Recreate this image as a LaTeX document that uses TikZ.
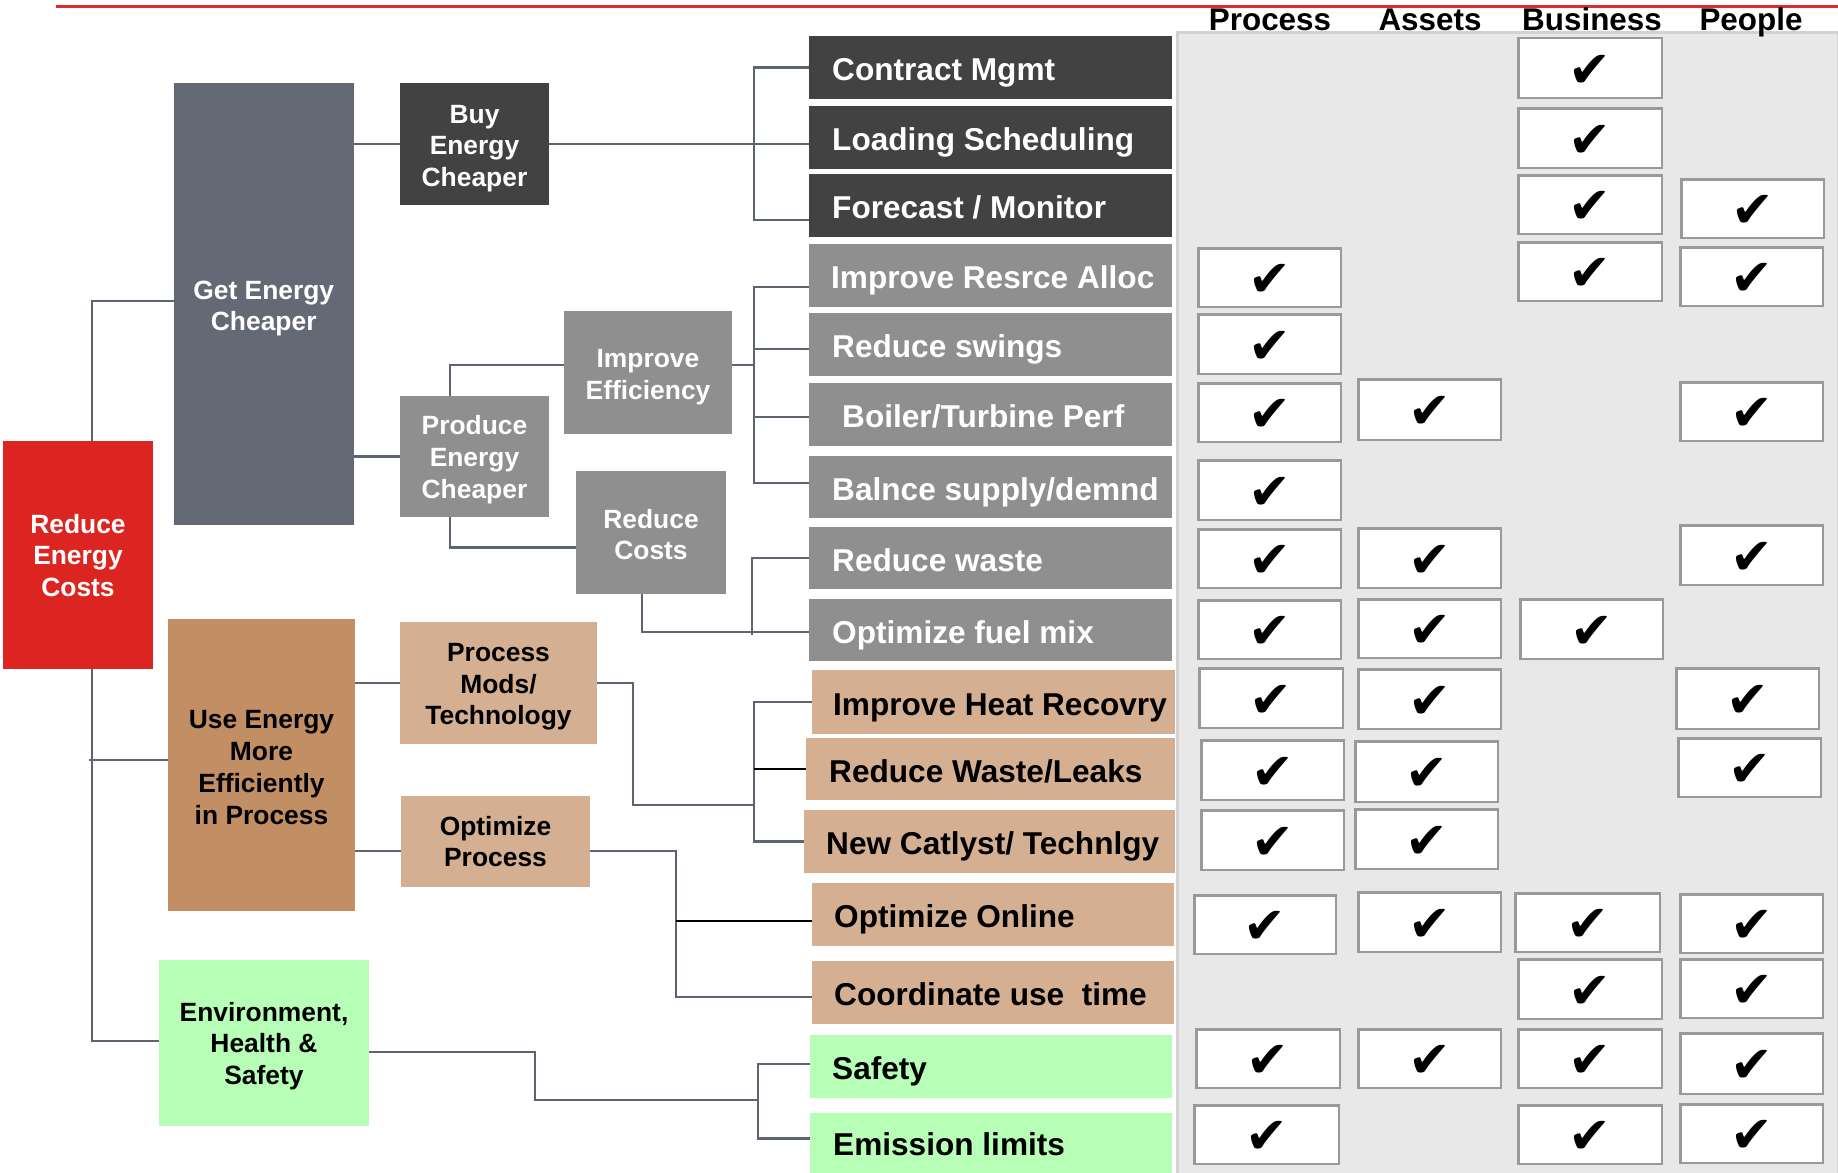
\documentclass[tikz,border=0pt]{standalone}
\usepackage{fontspec}
\setmainfont{Liberation Sans}
\newfontfamily\ckf{DejaVu Sans}
\definecolor{redbox}{HTML}{DC2521}
\definecolor{slate}{HTML}{646A75}
\definecolor{darkbox}{HTML}{424242}
\definecolor{midgray}{HTML}{8F8F8F}
\definecolor{brown}{HTML}{C28E63}
\definecolor{tan}{HTML}{D4AF91}
\definecolor{lgreen}{HTML}{B7FFB7}
\definecolor{panelfill}{HTML}{E8E8E8}
\definecolor{panelline}{HTML}{D2D2D2}
\definecolor{ckline}{HTML}{999999}
\definecolor{linec}{HTML}{5D6571}
\definecolor{redline}{HTML}{E02B2B}
\newcommand\bx[9]{% name, x1,y1,x2,y2, box style, text style, text shift, text
  \pgfmathsetmacro\bxw{#4-#2}\pgfmathsetmacro\bxh{#5-#3}%
  \pgfmathsetmacro\bxx{(#2+#4)/2}\pgfmathsetmacro\bxy{(#3+#5)/2}%
  \node[plainbox, #6, minimum width=\bxw pt, minimum height=\bxh pt] (#1) at (\bxx,\bxy) {};
  \node[#7] (#1t) at ([yshift=-#8pt]#1.center) {#9};}
\newcommand\rowitem[7]{% name, x1,y1,x2,y2, fill, text node
  \pgfmathsetmacro\bxw{#4-#2}\pgfmathsetmacro\bxh{#5-#3}%
  \pgfmathsetmacro\bxx{(#2+#4)/2}\pgfmathsetmacro\bxy{(#3+#5)/2}%
  \node[plainbox, fill=#6, minimum width=\bxw pt, minimum height=\bxh pt] (#1) at (\bxx,\bxy) {};
  #7}
\newcommand\ck[5]{%
  \pgfmathsetmacro\bxw{#4-#2-2.5}\pgfmathsetmacro\bxh{#5-#3-2.5}%
  \pgfmathsetmacro\bxx{(#2+#4)/2}\pgfmathsetmacro\bxy{(#3+#5)/2}%
  \node[ckbox, minimum width=\bxw pt, minimum height=\bxh pt] (#1) at (\bxx,\bxy) {};
  \node[cktext] (#1t) at ([yshift=-3pt]#1.center) {✔};}
\begin{document}
\begin{tikzpicture}[x=1pt,y=-1pt,
  plainbox/.style={rectangle, draw=none, inner sep=0pt, outer sep=0pt},
  ltw/.style={inner sep=0pt, font=\fontsize{26.4}{31.7}\selectfont\bfseries, align=center, text=white},
  ltb/.style={ltw, text=black},
  rtw/.style={inner sep=0pt, anchor=west, yshift=-2pt, font=\fontsize{31.6}{38}\selectfont\bfseries, text height=22.6pt, text depth=0pt, text=white},
  rtb/.style={rtw, text=black},
  hdr/.style={inner sep=0pt, anchor=base, font=\fontsize{31.4}{38}\selectfont\bfseries},
  ckbox/.style={rectangle, draw=ckline, line width=2.5pt, fill=white, inner sep=0pt},
  cktext/.style={inner sep=0pt, font=\ckf\fontsize{51}{51}\selectfont},
  conn/.style={draw=linec, line width=2.5pt},
  bconn/.style={draw=black, line width=2.5pt},
]
\useasboundingbox (0,0) rectangle (1838,1172);
\fill[white] (0,0) rectangle (1838,1172);
% top red rule
\draw[redline, line width=3.5pt] (56,6.5) -- (1838,6.5);
% right panel
\node[rectangle, fill=panelfill, draw=panelline, line width=3pt, inner sep=0pt,
      minimum width=661pt, minimum height=1142pt] (panel) at (1508,604) {};
% headers
\node[hdr] (hP) at (1270,31) {Process};
\node[hdr] (hA) at (1430,31) {Assets};
\node[hdr] (hB) at (1592,31) {Business};
\node[hdr] (hPe) at (1751,31) {People};

% left tree nodes
\bx{rc}{3}{441}{153}{669}{fill=redbox}{ltw}{0.5}{Reduce\\Energy\\Costs}
\bx{get}{173.5}{83}{354}{525}{fill=slate}{ltw}{4.5}{Get Energy\\Cheaper}
\bx{buy}{400}{83}{549}{205}{fill=darkbox}{ltw}{4.5}{Buy\\Energy\\Cheaper}
\bx{prod}{400}{396}{549}{517}{fill=midgray}{ltw}{3}{Produce\\Energy\\Cheaper}
\bx{impeff}{564}{311}{732}{434}{fill=midgray}{ltw}{4.5}{Improve\\Efficiency}
\bx{redcost}{576}{471}{726}{594}{fill=midgray}{ltw}{2}{Reduce\\Costs}
\bx{use}{168}{619}{355}{911}{fill=brown}{ltb}{2.5}{Use Energy\\More\\Efficiently\\in Process}
\bx{pmod}{400}{622}{597}{744}{fill=tan}{ltb}{4}{Process\\Mods/\\Technology}
\bx{opt}{401}{796}{590}{887}{fill=tan}{ltb}{0}{Optimize\\Process}
\bx{env}{159}{960}{369}{1126}{fill=lgreen}{ltb}{3}{Environment,\\Health \&\\Safety}

% right column rows
\rowitem{r1}{809}{36}{1172}{99}{darkbox}{\node[rtw] (r1t) at (832,67.5) {Contract Mgmt};}
\rowitem{r2}{809}{106}{1172}{169}{darkbox}{\node[rtw] (r2t) at (832,137.5) {Loading Scheduling};}
\rowitem{r3}{809}{174}{1172}{237}{darkbox}{\node[rtw] (r3t) at (832,205.5) {Forecast / Monitor};}
\rowitem{r4}{809}{244}{1172}{307}{midgray}{\node[rtw] (r4t) at (831,275.5) {Improve Resrce Alloc};}
\rowitem{r5}{809}{313}{1172}{376}{midgray}{\node[rtw] (r5t) at (832,344.5) {Reduce swings};}
\rowitem{r6}{809}{383}{1172}{446}{midgray}{\node[rtw] (r6t) at (842,414.5) {Boiler/Turbine Perf};}
\rowitem{r7}{809}{456}{1172}{518}{midgray}{\node[rtw] (r7t) at (832,487) {Balnce supply/demnd};}
\rowitem{r8}{809}{527}{1172}{589}{midgray}{\node[rtw] (r8t) at (832,558) {Reduce waste};}
\rowitem{r9}{809}{599}{1172}{661}{midgray}{\node[rtw] (r9t) at (832,630) {Optimize fuel mix};}
\rowitem{r10}{812}{670}{1175}{734}{tan}{\node[rtb] (r10t) at (833,702) {Improve Heat Recovry};}
\rowitem{r11}{806}{738}{1175}{800}{tan}{\node[rtb] (r11t) at (829,769) {Reduce Waste/Leaks};}
\rowitem{r12}{804}{810}{1175}{873}{tan}{\node[rtb] (r12t) at (826,841.5) {New Catlyst/ Technlgy};}
\rowitem{r13}{812}{883}{1174}{946}{tan}{\node[rtb] (r13t) at (834,914.5) {Optimize Online};}
\rowitem{r14}{812}{961}{1174}{1024}{tan}{\node[rtb] (r14t) at (834,992.5) {Coordinate use\ \ time};}
\rowitem{r15}{810}{1035}{1172}{1098}{lgreen}{\node[rtb] (r15t) at (832,1066.5) {Safety};}
\rowitem{r16}{810}{1113}{1172}{1175}{lgreen}{\node[rtb] (r16t) at (833,1142.5) {Emission limits};}

% check boxes
\ck{c1B}{1517}{37}{1663}{99}
\ck{c2B}{1517}{107}{1663}{169}
\ck{c3B}{1517}{174}{1663}{235}
\ck{c3Pe}{1680}{178}{1825}{239}
\ck{c4P}{1197}{247}{1342}{308}
\ck{c4B}{1517}{241}{1663}{302}
\ck{c4Pe}{1679}{246}{1824}{307}
\ck{c5P}{1197}{313}{1342}{375}
\ck{c6P}{1197}{382}{1342}{443}
\ck{c6A}{1357}{378}{1502}{441}
\ck{c6Pe}{1679}{381}{1824}{442}
\ck{c7P}{1197}{459}{1342}{521}
\ck{c8P}{1197}{528}{1342}{589}
\ck{c8A}{1357}{527}{1502}{589}
\ck{c8Pe}{1679}{524}{1824}{586}
\ck{c9P}{1197}{599}{1342}{660}
\ck{c9A}{1357}{598}{1502}{659}
\ck{c9B}{1519}{598}{1664}{660}
\ck{c10P}{1198}{667}{1344}{729}
\ck{c10A}{1357}{668}{1502}{730}
\ck{c10Pe}{1675}{667}{1820}{730}
\ck{c11P}{1200}{739}{1345}{801}
\ck{c11A}{1354}{740}{1499}{803}
\ck{c11Pe}{1677}{737}{1822}{798}
\ck{c12P}{1200}{809}{1345}{871}
\ck{c12A}{1354}{808}{1499}{870}
\ck{c13P}{1193}{894}{1337}{955}
\ck{c13A}{1357}{891}{1502}{953}
\ck{c13B}{1514}{892}{1661}{953}
\ck{c13Pe}{1679}{893}{1824}{954}
\ck{c14B}{1517}{958}{1663}{1020}
\ck{c14Pe}{1679}{958}{1824}{1019}
\ck{c15P}{1195}{1028}{1341}{1089}
\ck{c15A}{1357}{1028}{1502}{1089}
\ck{c15B}{1517}{1028}{1663}{1089}
\ck{c15Pe}{1679}{1032}{1824}{1095}
\ck{c16P}{1193}{1104}{1340}{1165}
\ck{c16B}{1517}{1104}{1663}{1165}
\ck{c16Pe}{1679}{1103}{1824}{1164}

% connectors: root trunk
\draw[conn] ([yshift=3pt]get.west) -| ([xshift=14pt]rc.north);
\draw[conn] ([xshift=14pt]rc.south) |- ([yshift=2pt]env.west);
\draw[conn] ([yshift=5pt]use.west) -- ++(-79,0);
% level 2
\draw[conn] (buy.west) -- ++(-46,0);
\draw[conn] (prod.west) -- ++(-46,0);
\draw[conn] (pmod.west) -- ++(-45,0);
\draw[conn] ([yshift=-9.5pt]opt.west) -- ++(-46,0);
% buy energy bracket
\draw[conn] (buy.east) -- ([yshift=-6.5pt]r2.west);
\draw[conn] (r1.west) -- ++(-55,0) |- ([yshift=-14.5pt]r3.west);
% produce energy
\draw[conn] ([xshift=-24.5pt]prod.north) |- ([yshift=7.5pt]impeff.west);
\draw[conn] ([xshift=-24.5pt]prod.south) |- ([yshift=-15pt]redcost.west);
% improve efficiency bracket
\draw[conn] ([yshift=7.5pt]impeff.east) -- ++(22,0);
\draw[conn] ([yshift=-11.5pt]r4.west) -- ++(-55,0) |- ([yshift=4pt]r7.west);
\draw[conn] ([yshift=-4.5pt]r5.west) -- ++(-55,0);
\draw[conn] ([yshift=-2.5pt]r6.west) -- ++(-55,0);
% reduce costs
\draw[conn] ([xshift=-9pt]redcost.south) |- ([yshift=-2pt]r9.west);
\draw[conn] (r8.west) -- ++(-57,0) -- ++(0,77);
% process mods bracket
\coordinate (j1) at (754,805);
\draw[conn] (pmod.east) -- ++(36,0) |- (j1);
\draw[conn] (r10.west) -- ++(-58,0) |- (r12.west);
\draw[bconn] (r11.west) -- ++(-52,0);
% optimize process
\draw[conn] ([yshift=-9.5pt]opt.east) -- ++(86,0) |- ([yshift=-4.5pt]r14.west);
\draw[bconn] ([yshift=-6.5pt]r13.west) -- ++(-136,0);
% environment
\coordinate (j3) at (758,1100);
\draw[conn] ([yshift=-9pt]env.east) -- ++(166,0) |- (j3);
\draw[conn] ([yshift=2.5pt]r15.west) -- ++(-52,0) |- ([yshift=5.5pt]r16.west);
\end{tikzpicture}
\end{document}
